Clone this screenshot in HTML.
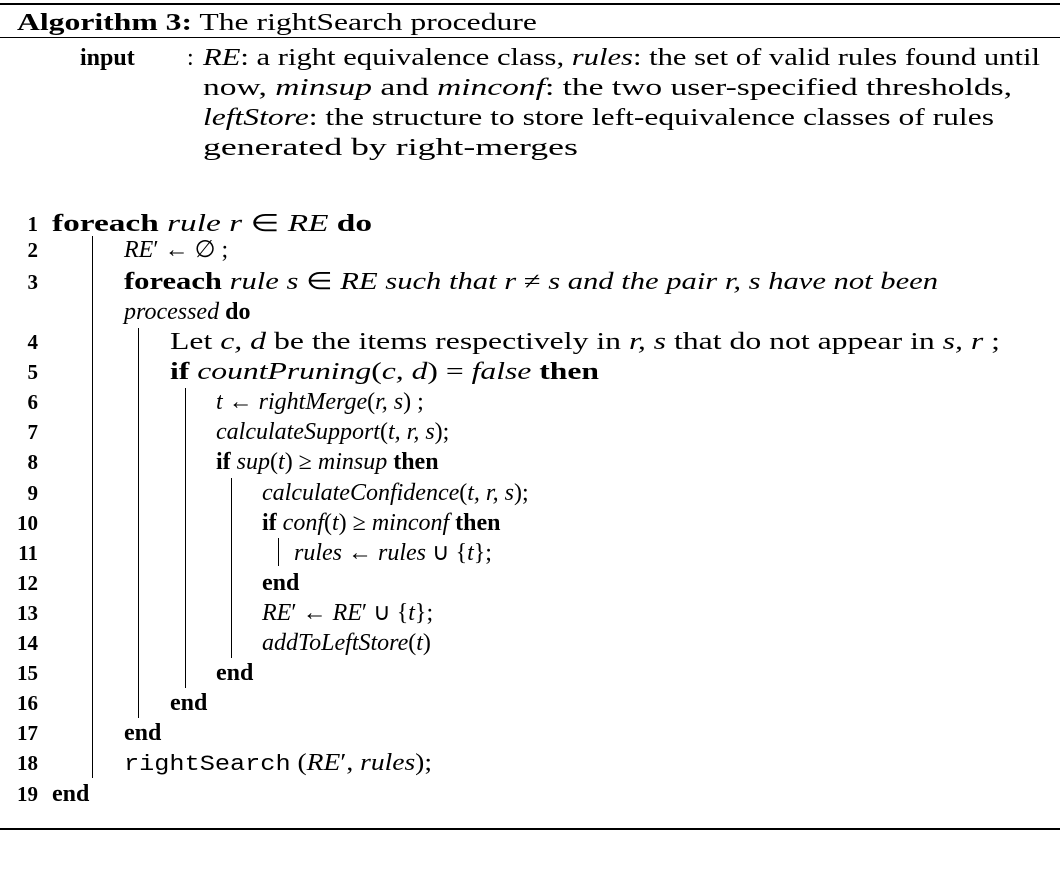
<!DOCTYPE html>
<html><head><meta charset="utf-8">
<style>
body{margin:0;background:#fff;}
#wrap{position:relative;width:1060px;height:881px;overflow:hidden;background:#fff;font-family:"Liberation Serif",serif;color:#000;}
.l{position:absolute;font-size:24px;line-height:30px;white-space:nowrap;transform-origin:0 50%;}
.n{position:absolute;font-size:21px;font-weight:bold;line-height:30px;text-align:right;width:30px;left:8px;}
.bar{position:absolute;width:1.3px;background:#000;}
.rule{position:absolute;left:0;width:1060px;background:#000;}
tt{font-family:"Liberation Mono",monospace;font-size:22px;}
</style></head><body>
<div id="wrap">
<div class="rule" style="top:3px;height:2px"></div>
<div class="l" data-w="537" style="left:17px;top:8px"><b>Algorithm 3:</b> The rightSearch procedure</div>
<div class="rule" style="top:37px;height:1.3px"></div>

<div class="l" style="left:80px;top:43px"><b>input</b></div>
<div class="l" style="left:187px;top:43px">:</div>
<div class="l" data-w="1040" style="left:203px;top:43px"><i>RE</i>: a right equivalence class, <i>rules</i>: the set of valid rules found until</div>
<div class="l" data-w="1012" style="left:203px;top:73px">now, <i>minsup</i> and <i>minconf</i>: the two user-specified thresholds,</div>
<div class="l" data-w="994" style="left:203px;top:103px"><i>leftStore</i>: the structure to store left-equivalence classes of rules</div>
<div class="l" data-w="578" style="left:203px;top:133px">generated by right-merges</div>

<div class="n" style="top:209px">1</div>
<div class="l" data-w="372" style="left:52px;top:209px"><b>foreach</b> <i>rule r</i> ∈ <i>RE</i> <b>do</b></div>
<div class="n" style="top:235px">2</div>
<div class="l" style="left:124px;top:235px"><i>RE</i>′ ← ∅ ;</div>
<div class="n" style="top:267px">3</div>
<div class="l" data-w="938" style="left:124px;top:267px"><b>foreach</b> <i>rule s</i> ∈ <i>RE such that r</i> ≠ <i>s and the pair r, s have not been</i></div>
<div class="l" style="left:124px;top:297px"><i>processed</i> <b>do</b></div>
<div class="n" style="top:327px">4</div>
<div class="l" data-w="1000" style="left:170px;top:327px">Let <i>c, d</i> be the items respectively in <i>r, s</i> that do not appear in <i>s, r</i> ;</div>
<div class="n" style="top:357px">5</div>
<div class="l" data-w="599" style="left:170px;top:357px"><b>if</b> <i>countPruning</i>(<i>c, d</i>) = <i>false</i> <b>then</b></div>
<div class="n" style="top:387px">6</div>
<div class="l" style="left:216px;top:387px"><i>t</i> ← <i>rightMerge</i>(<i>r, s</i>) ;</div>
<div class="n" style="top:417px">7</div>
<div class="l" style="left:216px;top:417px"><i>calculateSupport</i>(<i>t, r, s</i>);</div>
<div class="n" style="top:447px">8</div>
<div class="l" style="left:216px;top:447px"><b>if</b> <i>sup</i>(<i>t</i>) ≥ <i>minsup</i> <b>then</b></div>
<div class="n" style="top:478px">9</div>
<div class="l" style="left:262px;top:478px"><i>calculateConfidence</i>(<i>t, r, s</i>);</div>
<div class="n" style="top:508px">10</div>
<div class="l" style="left:262px;top:508px"><b>if</b> <i>conf</i>(<i>t</i>) ≥ <i>minconf</i> <b>then</b></div>
<div class="n" style="top:538px">11</div>
<div class="l" style="left:294px;top:538px"><i>rules</i> ← <i>rules</i> ∪ {<i>t</i>};</div>
<div class="n" style="top:568px">12</div>
<div class="l" style="left:262px;top:568px"><b>end</b></div>
<div class="n" style="top:598px">13</div>
<div class="l" style="left:262px;top:598px"><i>RE</i>′ ← <i>RE</i>′ ∪ {<i>t</i>};</div>
<div class="n" style="top:628px">14</div>
<div class="l" style="left:262px;top:628px"><i>addToLeftStore</i>(<i>t</i>)</div>
<div class="n" style="top:658px">15</div>
<div class="l" style="left:216px;top:658px"><b>end</b></div>
<div class="n" style="top:688px">16</div>
<div class="l" style="left:170px;top:688px"><b>end</b></div>
<div class="n" style="top:718px">17</div>
<div class="l" style="left:124px;top:718px"><b>end</b></div>
<div class="n" style="top:748px">18</div>
<div class="l" data-w="432" style="left:124px;top:748px"><tt>rightSearch</tt> (<i>RE</i>′, <i>rules</i>);</div>
<div class="n" style="top:779px">19</div>
<div class="l" style="left:52px;top:779px"><b>end</b></div>

<div class="bar" style="left:92px;top:236px;height:542px"></div>
<div class="bar" style="left:138px;top:328px;height:390px"></div>
<div class="bar" style="left:185px;top:388px;height:300px"></div>
<div class="bar" style="left:231px;top:478px;height:180px"></div>
<div class="bar" style="left:278px;top:538px;height:28px"></div>

<div class="rule" style="top:828px;height:2px"></div>
</div>
<script>
document.querySelectorAll('[data-w]').forEach(function(el){
  var target=parseFloat(el.getAttribute('data-w'))-el.offsetLeft;
  var w=el.getBoundingClientRect().width;
  if(w>0){el.style.transform='scaleX('+(target/w)+')';}
});
</script>
</body></html>
